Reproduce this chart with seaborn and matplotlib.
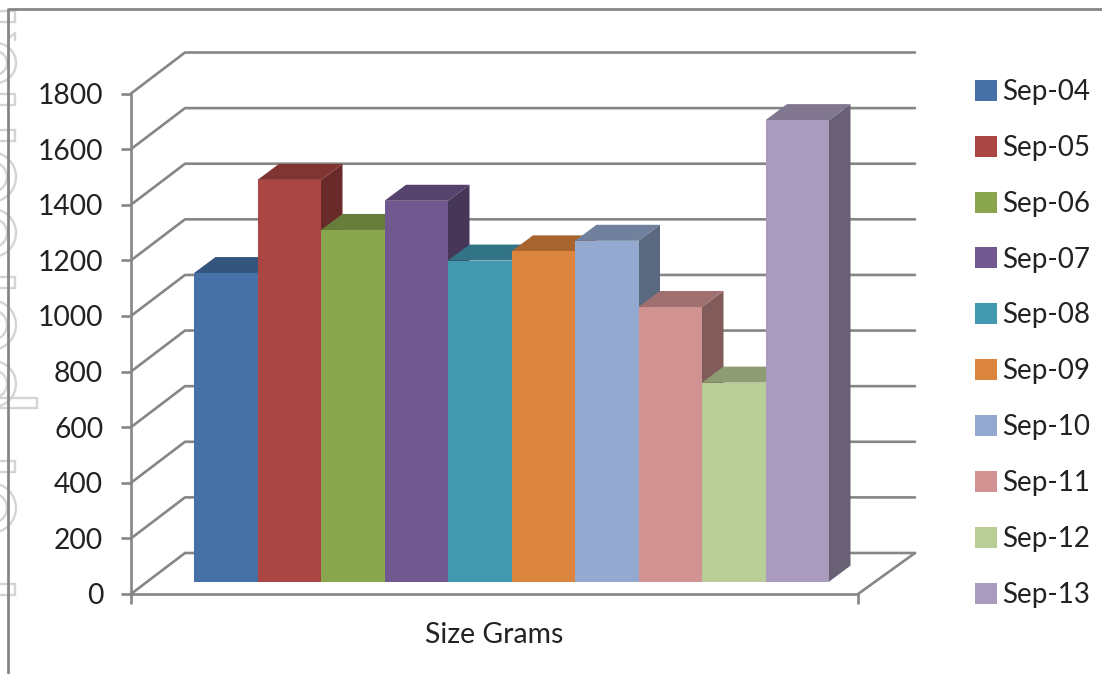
import matplotlib
matplotlib.use("Agg")
import matplotlib.pyplot as plt
from matplotlib.colors import to_rgb
from matplotlib.patches import Circle, Polygon, Rectangle
import pandas as pd
import seaborn as sns

# Data
months = ["Sep-04", "Sep-05", "Sep-06", "Sep-07", "Sep-08",
          "Sep-09", "Sep-10", "Sep-11", "Sep-12", "Sep-13"]
sizes = [1110, 1445, 1265, 1370, 1155, 1188, 1226, 988, 716, 1660]
colors = ["#4571A6", "#AA4643", "#89A54E", "#71588F", "#4198AF",
          "#DB843D", "#93A9CF", "#D19392", "#B9CD96", "#A99BBD"]
y_ticks = list(range(0, 1801, 200))
x_label = "Size Grams"

# Layout, in pixels from the top-left corner of the canvas
W, H = 1102, 674
AXIS_LEFT, AXIS_RIGHT, AXIS_ZERO, AXIS_TOP = 131, 858, 594, 93.5
BAR_LEFT, BAR_RIGHT, BAR_ZERO = 194, 829, 581.7
WALL_DX, WALL_DY, WALL_END = 54, 41, 57
BAR_DX, BAR_DY = 21.5, 16
LINE = "#868686"
GHOST = "#d4d4d4"
INK = "#222222"
TOP_SHADE, SIDE_SHADE = 0.76, 0.62
LINE_W = 1.9

sns.set_theme(style="white")
plt.rcParams["font.family"] = ["Lato", "DejaVu Sans"]

fig = plt.figure(figsize=(W / 100, H / 100), dpi=100, facecolor="white")


def axes_box(left, right, bottom_px, top_px):
    return [left / W, 1 - bottom_px / H, (right - left) / W, (bottom_px - top_px) / H]


# Page layer: frame and the faint outlines showing through at the left edge
page = fig.add_axes([0, 0, 1, 1], zorder=0)
page.set_xlim(0, W)
page.set_ylim(H, 0)
page.axis("off")
for y0, y1, x1 in [(11, 22, 15), (94, 105, 15), (130, 141, 15), (277, 288, 15),
                   (398, 408, 37), (461, 472, 15), (584, 595, 15)]:
    page.add_patch(Rectangle((-4, y0), x1 + 4, y1 - y0, fill=False, ec=GHOST, lw=1.7))
for cy, r in [(63, 20), (177, 25), (233, 24), (325, 25), (384, 23), (508, 25)]:
    page.add_patch(Circle((16 - r, cy), r, fill=False, ec=GHOST, lw=1.7))
    page.add_patch(Circle((7 - r * 0.6, cy), r * 0.6, fill=False, ec=GHOST, lw=1.7))
page.plot([9, 15, 15], [38, 33, 40], color=GHOST, lw=1.7)
page.plot([W, 7.5, 7.5], [9, 9, H], color=LINE, lw=2)

# Value axis and the receding walls and floor
ax = fig.add_axes(axes_box(AXIS_LEFT, AXIS_RIGHT, AXIS_ZERO, AXIS_TOP), zorder=1)
ax.patch.set_alpha(0)
ax.set_xlim(0, 1)
ax.set_ylim(0, 1800)
px_per_unit = (AXIS_ZERO - AXIS_TOP) / 1800
units_per_px = 1 / px_per_unit
plot_w = AXIS_RIGHT - AXIS_LEFT
wall_dx = WALL_DX / plot_w
wall_end = 1 + WALL_END / plot_w
wall_dy = WALL_DY * units_per_px
for v in y_ticks:
    ax.plot([0, wall_dx, wall_end], [v, v + wall_dy, v + wall_dy],
            color=LINE, lw=LINE_W, clip_on=False, solid_joinstyle="miter")
ax.plot([1, wall_end], [0, wall_dy], color=LINE, lw=LINE_W, clip_on=False)
sns.despine(ax=ax, top=True, right=True)
for side in ("left", "bottom"):
    ax.spines[side].set_color(LINE)
    ax.spines[side].set_linewidth(LINE_W)
ax.set_yticks(y_ticks)
ax.set_xticks([0, 1])
ax.set_xticklabels([])
ax.tick_params(axis="both", direction="out", length=7, width=LINE_W, color=LINE,
               left=True, bottom=True)
ax.tick_params(axis="y", labelsize=20.3, labelcolor=INK, pad=13)
ax.set_xlabel(x_label, fontsize=20.4, color=INK, labelpad=10)

# Front faces of the columns, on an axes shifted onto the chart floor
bars = fig.add_axes(axes_box(BAR_LEFT, BAR_RIGHT, BAR_ZERO, BAR_ZERO - (AXIS_ZERO - AXIS_TOP)),
                    zorder=2)
bars.patch.set_alpha(0)
table = pd.DataFrame({"month": months, "size": sizes})
sns.barplot(data=table, x="month", y="size", hue="month", hue_order=months,
            palette=colors, saturation=1, width=1, ax=bars, legend=True,
            linewidth=0)
bars.set_xlim(-0.5, len(months) - 0.5)
bars.set_ylim(0, 1800)
bars.axis("off")

# Top and side faces, built from the same values
bar_dx = BAR_DX / ((BAR_RIGHT - BAR_LEFT) / len(months))
bar_dy = BAR_DY * units_per_px
for i, (value, color) in enumerate(zip(sizes, colors)):
    rgb = to_rgb(color)
    left, right = i - 0.5, i + 0.5
    top_color = tuple(c * TOP_SHADE for c in rgb)
    side_color = tuple(c * SIDE_SHADE for c in rgb)
    bars.add_patch(Polygon([(right, 0), (right + bar_dx, bar_dy),
                            (right + bar_dx, value + bar_dy), (right, value)],
                           fc=side_color, ec="none", clip_on=False, zorder=3 * i + 1))
    bars.add_patch(Polygon([(left, value), (left + bar_dx, value + bar_dy),
                            (right + bar_dx, value + bar_dy), (right, value)],
                           fc=top_color, ec="none", clip_on=False, zorder=3 * i + 2))
    bars.containers[i][0].set_zorder(3 * i + 3)

# Legend down the right-hand side
legend = bars.get_legend()
handles = legend.legend_handles
bars.legend(handles, months, loc="upper left", frameon=False,
            bbox_to_anchor=(975 / W, 1 - 79 / H), bbox_transform=fig.transFigure,
            fontsize=20, labelcolor=INK, handlelength=0.79, handleheight=0.79,
            handletextpad=0.17, labelspacing=1.075, borderpad=0, borderaxespad=0)

fig.savefig("out.png", dpi=100, facecolor="white")
